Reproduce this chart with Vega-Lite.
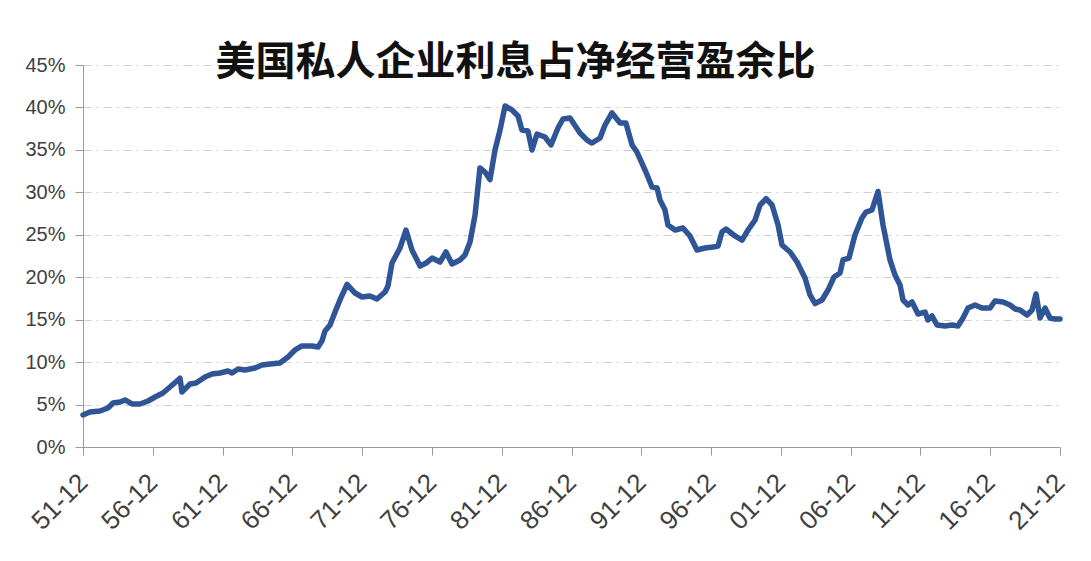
{
  "$schema": "https://vega.github.io/schema/vega-lite/v6.json",
  "width": 977,
  "height": 382,
  "autosize": "none",
  "padding": {"left": 83, "top": 65, "right": 31, "bottom": 114},
  "background": "white",
  "title": {
    "text": "美国私人企业利息占净经营盈余比",
    "font": "Noto Sans CJK SC",
    "fontSize": 40,
    "fontWeight": "bold",
    "color": "#111111",
    "anchor": "middle",
    "frame": "group",
    "dx": -56,
    "offset": -28
  },
  "config": {
    "view": {"stroke": null},
    "axis": {
      "labelFont": "Liberation Sans",
      "labelColor": "#404040",
      "domainColor": "#9a9a9a",
      "tickColor": "#9a9a9a",
      "tickSize": 8,
      "titleFont": "Liberation Sans"
    }
  },
  "data": {
    "values": [
      {"year": 1951.92, "ratio": 3.77},
      {"year": 1952.42, "ratio": 4.12},
      {"year": 1953.14, "ratio": 4.24},
      {"year": 1953.71, "ratio": 4.59},
      {"year": 1954.07, "ratio": 5.18},
      {"year": 1954.57, "ratio": 5.30},
      {"year": 1954.93, "ratio": 5.54},
      {"year": 1955.43, "ratio": 5.07},
      {"year": 1956.00, "ratio": 5.07},
      {"year": 1956.58, "ratio": 5.42},
      {"year": 1957.08, "ratio": 5.89},
      {"year": 1957.65, "ratio": 6.36},
      {"year": 1958.15, "ratio": 7.07},
      {"year": 1958.73, "ratio": 7.89},
      {"year": 1958.87, "ratio": 8.10},
      {"year": 1959.01, "ratio": 6.48},
      {"year": 1959.59, "ratio": 7.42},
      {"year": 1960.02, "ratio": 7.54},
      {"year": 1960.66, "ratio": 8.25},
      {"year": 1961.16, "ratio": 8.60},
      {"year": 1961.74, "ratio": 8.72},
      {"year": 1962.31, "ratio": 8.95},
      {"year": 1962.60, "ratio": 8.72},
      {"year": 1963.03, "ratio": 9.19},
      {"year": 1963.53, "ratio": 9.07},
      {"year": 1964.24, "ratio": 9.31},
      {"year": 1964.75, "ratio": 9.66},
      {"year": 1965.32, "ratio": 9.78},
      {"year": 1966.03, "ratio": 9.90},
      {"year": 1966.61, "ratio": 10.60},
      {"year": 1967.11, "ratio": 11.43},
      {"year": 1967.61, "ratio": 11.90},
      {"year": 1968.33, "ratio": 11.90},
      {"year": 1968.76, "ratio": 11.78},
      {"year": 1969.04, "ratio": 12.49},
      {"year": 1969.26, "ratio": 13.66},
      {"year": 1969.62, "ratio": 14.37},
      {"year": 1969.98, "ratio": 15.90},
      {"year": 1970.33, "ratio": 17.32},
      {"year": 1970.84, "ratio": 19.15},
      {"year": 1971.41, "ratio": 18.14},
      {"year": 1971.91, "ratio": 17.67},
      {"year": 1972.48, "ratio": 17.79},
      {"year": 1972.98, "ratio": 17.43},
      {"year": 1973.56, "ratio": 18.26},
      {"year": 1973.77, "ratio": 18.97},
      {"year": 1974.06, "ratio": 21.67},
      {"year": 1974.63, "ratio": 23.44},
      {"year": 1975.06, "ratio": 25.56},
      {"year": 1975.49, "ratio": 23.21},
      {"year": 1976.07, "ratio": 21.32},
      {"year": 1976.50, "ratio": 21.67},
      {"year": 1976.93, "ratio": 22.26},
      {"year": 1977.50, "ratio": 21.79},
      {"year": 1977.93, "ratio": 22.97},
      {"year": 1978.36, "ratio": 21.56},
      {"year": 1978.93, "ratio": 22.03},
      {"year": 1979.29, "ratio": 22.62},
      {"year": 1979.65, "ratio": 24.15},
      {"year": 1980.01, "ratio": 27.33},
      {"year": 1980.36, "ratio": 32.87},
      {"year": 1980.72, "ratio": 32.39},
      {"year": 1981.08, "ratio": 31.50},
      {"year": 1981.44, "ratio": 34.99},
      {"year": 1981.80, "ratio": 37.34},
      {"year": 1982.16, "ratio": 40.17},
      {"year": 1982.66, "ratio": 39.70},
      {"year": 1983.09, "ratio": 38.99},
      {"year": 1983.37, "ratio": 37.34},
      {"year": 1983.80, "ratio": 37.22},
      {"year": 1984.09, "ratio": 34.99},
      {"year": 1984.45, "ratio": 36.87},
      {"year": 1985.02, "ratio": 36.52},
      {"year": 1985.45, "ratio": 35.58},
      {"year": 1985.95, "ratio": 37.58},
      {"year": 1986.31, "ratio": 38.64},
      {"year": 1986.81, "ratio": 38.76},
      {"year": 1987.53, "ratio": 36.99},
      {"year": 1988.03, "ratio": 36.16},
      {"year": 1988.39, "ratio": 35.81},
      {"year": 1988.96, "ratio": 36.40},
      {"year": 1989.32, "ratio": 37.93},
      {"year": 1989.82, "ratio": 39.35},
      {"year": 1990.40, "ratio": 38.17},
      {"year": 1990.82, "ratio": 38.17},
      {"year": 1991.26, "ratio": 35.58},
      {"year": 1991.61, "ratio": 34.75},
      {"year": 1992.19, "ratio": 32.63},
      {"year": 1992.69, "ratio": 30.63},
      {"year": 1993.05, "ratio": 30.51},
      {"year": 1993.26, "ratio": 29.10},
      {"year": 1993.62, "ratio": 27.92},
      {"year": 1993.83, "ratio": 26.15},
      {"year": 1994.34, "ratio": 25.56},
      {"year": 1994.91, "ratio": 25.80},
      {"year": 1995.41, "ratio": 24.86},
      {"year": 1995.91, "ratio": 23.21},
      {"year": 1996.48, "ratio": 23.44},
      {"year": 1997.06, "ratio": 23.56},
      {"year": 1997.42, "ratio": 23.68},
      {"year": 1997.70, "ratio": 25.33},
      {"year": 1997.99, "ratio": 25.68},
      {"year": 1998.63, "ratio": 24.86},
      {"year": 1999.14, "ratio": 24.38},
      {"year": 1999.57, "ratio": 25.56},
      {"year": 2000.07, "ratio": 26.74},
      {"year": 2000.43, "ratio": 28.51},
      {"year": 2000.86, "ratio": 29.25},
      {"year": 2001.29, "ratio": 28.51},
      {"year": 2001.72, "ratio": 26.15},
      {"year": 2002.00, "ratio": 23.80},
      {"year": 2002.58, "ratio": 22.97},
      {"year": 2003.08, "ratio": 21.79},
      {"year": 2003.65, "ratio": 19.91},
      {"year": 2004.01, "ratio": 17.91},
      {"year": 2004.37, "ratio": 16.90},
      {"year": 2004.87, "ratio": 17.32},
      {"year": 2005.30, "ratio": 18.49},
      {"year": 2005.73, "ratio": 20.03},
      {"year": 2006.16, "ratio": 20.50},
      {"year": 2006.37, "ratio": 22.03},
      {"year": 2006.80, "ratio": 22.26},
      {"year": 2007.23, "ratio": 24.97},
      {"year": 2007.73, "ratio": 26.98},
      {"year": 2008.02, "ratio": 27.68},
      {"year": 2008.45, "ratio": 27.92},
      {"year": 2008.88, "ratio": 30.10},
      {"year": 2009.24, "ratio": 26.15},
      {"year": 2009.74, "ratio": 22.03},
      {"year": 2010.10, "ratio": 20.26},
      {"year": 2010.46, "ratio": 19.08},
      {"year": 2010.67, "ratio": 17.32},
      {"year": 2011.03, "ratio": 16.73},
      {"year": 2011.32, "ratio": 17.08},
      {"year": 2011.75, "ratio": 15.67},
      {"year": 2012.25, "ratio": 15.90},
      {"year": 2012.46, "ratio": 14.96},
      {"year": 2012.75, "ratio": 15.43},
      {"year": 2013.11, "ratio": 14.37},
      {"year": 2013.68, "ratio": 14.25},
      {"year": 2014.18, "ratio": 14.37},
      {"year": 2014.61, "ratio": 14.25},
      {"year": 2014.97, "ratio": 15.20},
      {"year": 2015.33, "ratio": 16.37},
      {"year": 2015.83, "ratio": 16.73},
      {"year": 2016.33, "ratio": 16.37},
      {"year": 2016.91, "ratio": 16.37},
      {"year": 2017.26, "ratio": 17.20},
      {"year": 2017.84, "ratio": 17.08},
      {"year": 2018.34, "ratio": 16.73},
      {"year": 2018.70, "ratio": 16.26},
      {"year": 2019.05, "ratio": 16.14},
      {"year": 2019.56, "ratio": 15.55},
      {"year": 2019.92, "ratio": 16.14},
      {"year": 2020.20, "ratio": 18.02},
      {"year": 2020.49, "ratio": 15.20},
      {"year": 2020.85, "ratio": 16.37},
      {"year": 2021.20, "ratio": 15.20},
      {"year": 2021.56, "ratio": 15.08},
      {"year": 2021.92, "ratio": 15.08}
    ]
  },
  "mark": {"type": "line", "color": "#2f5597", "strokeWidth": 5.5, "strokeJoin": "round", "strokeCap": "round", "clip": false},
  "encoding": {
    "x": {
      "field": "year",
      "type": "quantitative",
      "scale": {"domain": [1951.92, 2021.92], "nice": false, "zero": false},
      "axis": {
        "title": null,
        "grid": false,
        "values": [1951.92, 1956.92, 1961.92, 1966.92, 1971.92, 1976.92, 1981.92, 1986.92, 1991.92, 1996.92, 2001.92, 2006.92, 2011.92, 2016.92, 2021.92],
        "labelExpr": "substring(toString(floor(datum.value)), 2) + '-12'",
        "labelAngle": -45,
        "labelAlign": "right",
        "labelBaseline": "middle",
        "labelFontSize": 26,
        "labelPadding": 23,
        "labelFlush": false,
        "labelOverlap": false
      }
    },
    "y": {
      "field": "ratio",
      "type": "quantitative",
      "scale": {"domain": [0, 45], "nice": false},
      "axis": {
        "title": null,
        "values": [0, 5, 10, 15, 20, 25, 30, 35, 40, 45],
        "labelExpr": "datum.value + '%'",
        "labelFontSize": 20,
        "labelPadding": 10,
        "gridColor": "#cfcfcf",
        "gridDash": [8, 5, 2, 5],
        "gridWidth": 1
      }
    }
  }
}
